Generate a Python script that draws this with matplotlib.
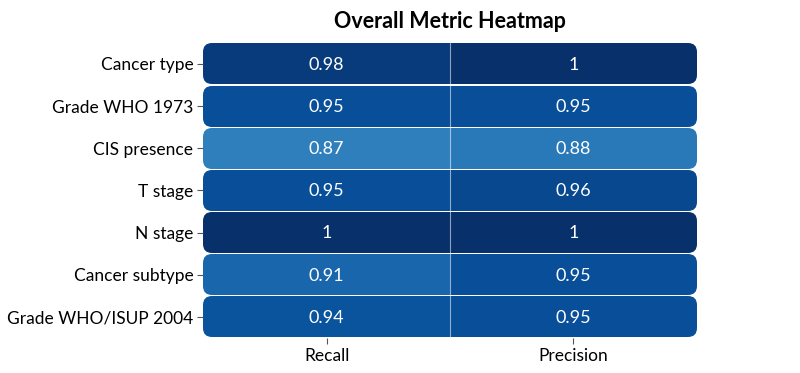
import numpy as np
import matplotlib
matplotlib.use("Agg")
import matplotlib.pyplot as plt
from matplotlib.patches import FancyBboxPatch, PathPatch
from matplotlib.path import Path
from matplotlib.colors import Normalize

plt.rcParams['font.family'] = ['Lato', 'DejaVu Sans']

# data
rows = ['Cancer type', 'Grade WHO 1973', 'CIS presence', 'T stage',
        'N stage', 'Cancer subtype', 'Grade WHO/ISUP 2004']
cols = ['Recall', 'Precision']
recall = [0.98, 0.95, 0.87, 0.95, 1.00, 0.91, 0.94]
precision = [1.00, 0.95, 0.88, 0.96, 1.00, 0.95, 0.95]

values = np.column_stack([recall, precision])
n_rows, n_cols = values.shape

fig = plt.figure(figsize=(8, 3.73), dpi=100)
ax = fig.add_axes([0.254, 0.094, 0.617, 0.791])

norm = Normalize(vmin=0.57, vmax=1.0)
mesh = ax.pcolormesh(np.arange(n_cols + 1), np.arange(n_rows + 1), values,
                     cmap='Blues', norm=norm)
ax.set_xlim(0, n_cols)
ax.set_ylim(n_rows, 0)

# rounded rows -> one compound clip path
px_w = 0.617 * 800 / n_cols
px_h = 0.791 * 373 / n_rows
r = 9 / px_w
gap = 0.6 / px_h
paths = []
for i in range(n_rows):
    p = FancyBboxPatch((0, i + gap), n_cols, 1 - 2 * gap,
                       boxstyle=f"round,pad=0,rounding_size={r}",
                       mutation_aspect=px_w / px_h)
    paths.append(p.get_path())
clip = PathPatch(Path.make_compound_path(*paths), transform=ax.transData,
                 facecolor='none', edgecolor='none')
ax.add_patch(clip)
mesh.set_clip_path(clip)

# column separator
for j in range(1, n_cols):
    ln = ax.axvline(j, color='white', lw=0.8, alpha=0.55)
    ln.set_clip_path(clip)

for i in range(n_rows):
    for j in range(n_cols):
        v = values[i, j]
        txt = f"{v:g}"
        ax.text(j + 0.5, i + 0.52, txt, ha='center', va='center',
                color='white', fontsize=13)

ax.set_xticks(np.arange(n_cols) + 0.5)
ax.set_xticklabels(cols, fontsize=12.5)
ax.set_yticks(np.arange(n_rows) + 0.5)
ax.set_yticklabels(rows, fontsize=12.5)
ax.tick_params(axis='both', length=4, width=0.8, color='#555555', pad=3)
for s in ax.spines.values():
    s.set_visible(False)

ax.set_title('Overall Metric Heatmap', fontsize=15.5, fontweight='bold', pad=11)

fig.savefig('out.png', dpi=100)
